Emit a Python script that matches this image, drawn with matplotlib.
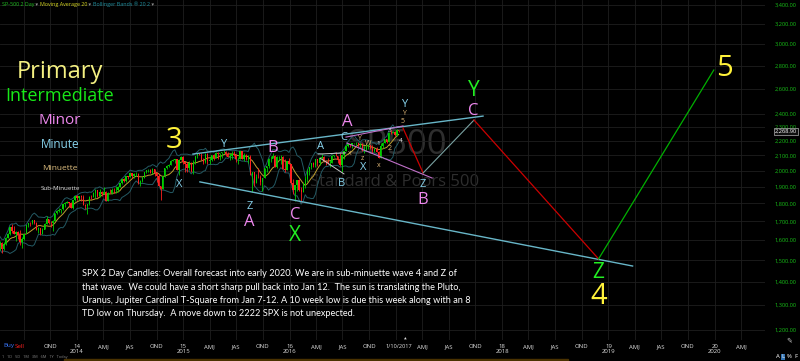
import numpy as np
import pandas as pd
import matplotlib
matplotlib.use("Agg")
import matplotlib.pyplot as plt
import matplotlib.dates as mdates
from matplotlib.ticker import NullLocator
from matplotlib.patches import Rectangle

plt.rcParams['font.family'] = ['Open Sans', 'DejaVu Sans']

W, H = 800, 361

####################################################################
# weekly SPX bars, Apr 2013 .. Jan 10 2017 (one row per month)
####################################################################
closes = [
    1588, 1555, 1582,
    1614, 1633, 1667, 1649, 1631,
    1643, 1626, 1592, 1606,
    1632, 1680, 1692, 1691,
    1709, 1691, 1655, 1664, 1633,
    1655, 1688, 1710, 1692,
    1691, 1703, 1744, 1759,
    1762, 1770, 1798, 1804, 1806,
    1805, 1775, 1818, 1841,
    # 2014
    1831, 1842, 1838, 1790, 1783,
    1797, 1838, 1836, 1859,
    1878, 1841, 1866, 1857,
    1865, 1815, 1864, 1863,
    1881, 1878, 1878, 1900, 1924,
    1949, 1937, 1963, 1961,
    1985, 1968, 1978, 1978,
    1925, 1932, 1955, 1988, 2003,
    2007, 1985, 2010, 1982,
    1968, 1906, 1886, 1964, 2018,
    2032, 2039, 2064, 2068,
    2075, 2002, 2071, 2088,
    # 2015
    2058, 2045, 2019, 2051, 1995,
    2055, 2097, 2110, 2105,
    2071, 2053, 2108, 2061,
    2067, 2102, 2081, 2117,
    2108, 2116, 2122, 2126, 2107,
    2092, 2094, 2110, 2102,
    2077, 2077, 2127, 2079, 2104,
    2078, 2092, 1971, 1989,
    1921, 1961, 1958, 1931,
    1951, 2015, 2033, 2075, 2079,
    2099, 2023, 2089, 2090,
    2092, 2012, 2006, 2061,
    # 2016
    2044, 1922, 1880, 1907, 1940,
    1880, 1865, 1917, 1948,
    2000, 2022, 2050, 2035,
    2073, 2048, 2081, 2092, 2065,
    2057, 2047, 2052, 2099,
    2099, 2096, 2071, 2037,
    2103, 2130, 2162, 2175, 2173,
    2183, 2184, 2184, 2169,
    2180, 2128, 2139, 2165, 2168,
    2153, 2133, 2141, 2126,
    2085, 2164, 2182, 2213,
    2192, 2259, 2258, 2264, 2239,
    # 2017
    2277, 2269,
]
highs = [
    1597, 1593, 1592,
    1618, 1635, 1667, 1687, 1674,
    1646, 1648, 1654, 1615,
    1632, 1680, 1693, 1698,
    1709, 1708, 1696, 1669, 1664,
    1664, 1689, 1730, 1711,
    1700, 1709, 1745, 1760,
    1775, 1771, 1799, 1807, 1813,
    1807, 1809, 1823, 1844,
    # 2014
    1849, 1843, 1850, 1849, 1798,
    1798, 1841, 1847, 1867,
    1883, 1878, 1884, 1875,
    1897, 1873, 1865, 1885,
    1891, 1889, 1902, 1901, 1924,
    1950, 1955, 1963, 1968,
    1985, 1985, 1984, 1991,
    1985, 1942, 1964, 1992, 2005,
    2011, 2008, 2019, 2008,
    1990, 1977, 1906, 1965, 2018,
    2034, 2041, 2071, 2075,
    2079, 2076, 2077, 2093,
    # 2015
    2093, 2064, 2056, 2064, 2057,
    2072, 2097, 2110, 2119,
    2118, 2083, 2114, 2114,
    2089, 2102, 2111, 2120,
    2126, 2117, 2124, 2134, 2127,
    2121, 2115, 2127, 2130,
    2107, 2086, 2129, 2132, 2114,
    2112, 2105, 2103, 1989,
    1987, 1976, 2020, 1974,
    1952, 2020, 2033, 2080, 2094,
    2116, 2101, 2097, 2095,
    2104, 2093, 2076, 2064,
    # 2016
    2081, 2038, 1950, 1908, 1940,
    1947, 1896, 1930, 1963,
    2009, 2022, 2052, 2056,
    2074, 2075, 2086, 2112, 2099,
    2070, 2084, 2071, 2100,
    2105, 2120, 2094, 2113,
    2105, 2131, 2169, 2175, 2178,
    2183, 2188, 2193, 2187,
    2184, 2187, 2163, 2175, 2175,
    2170, 2169, 2148, 2154,
    2128, 2182, 2189, 2214,
    2214, 2260, 2278, 2273, 2273,
    # 2017
    2283, 2279,
]
lows = [
    1553, 1536, 1553,
    1577, 1610, 1626, 1635, 1630,
    1598, 1608, 1577, 1560,
    1601, 1635, 1670, 1676,
    1684, 1683, 1654, 1640, 1627,
    1633, 1656, 1683, 1687,
    1670, 1646, 1700, 1740,
    1752, 1746, 1760, 1779, 1800,
    1779, 1772, 1767, 1815,
    # 2014
    1823, 1823, 1815, 1790, 1770,
    1738, 1791, 1825, 1836,
    1834, 1839, 1839, 1842,
    1857, 1814, 1816, 1859,
    1857, 1859, 1862, 1868, 1896,
    1915, 1931, 1930, 1944,
    1958, 1952, 1955, 1965,
    1916, 1904, 1928, 1953, 1986,
    1992, 1983, 1978, 1965,
    1926, 1905, 1821, 1886, 1960,
    2010, 2026, 2034, 2062,
    2049, 2002, 1972, 2066,
    # 2015
    2046, 1992, 1988, 2005, 1989,
    1981, 2041, 2085, 2103,
    2067, 2040, 2050, 2045,
    2044, 2060, 2072, 2080,
    2077, 2068, 2085, 2115, 2099,
    2086, 2072, 2078, 2099,
    2057, 2044, 2076, 2077, 2063,
    2067, 2052, 1970, 1867,
    1903, 1921, 1953, 1908,
    1872, 1951, 1990, 2018, 2059,
    2080, 2022, 2020, 2070,
    2042, 2012, 1994, 2005,
    # 2016
    2043, 1918, 1857, 1812, 1873,
    1872, 1810, 1865, 1891,
    1931, 1970, 2010, 2022,
    2022, 2033, 2039, 2074, 2053,
    2039, 2044, 2026, 2050,
    2086, 2095, 2050, 2033,
    1991, 2074, 2131, 2154, 2156,
    2147, 2175, 2172, 2160,
    2159, 2127, 2119, 2132, 2145,
    2144, 2114, 2124, 2122,
    2084, 2084, 2151, 2183,
    2187, 2191, 2252, 2258, 2234,
    # 2017
    2233, 2266,
]
first_open = 1561
last_price = 2268.90

price_ticks = [1200, 1300, 1400, 1500, 1600, 1700, 1800, 1900, 2000, 2100,
               2200, 2300, 2400, 2600, 2800, 3000, 3200, 3400]

####################################################################
# Elliott wave forecast paths (dates, prices)
####################################################################
wave_paths = [
    (["2015-02-03", "2017-10-27"], [2109, 2382], "channel"),
    (["2015-02-27", "2019-03-25"], [1929, 1473], "channel"),
    (["2016-07-13", "2017-01-25"], [2227, 2308], "minor"),
    (["2016-07-16", "2017-05-05"], [2185, 1953], "minor"),
    (["2016-04-08", "2016-07-12"], [2109, 2117], "white"),
    (["2016-04-15", "2016-07-06"], [2082, 1979], "white"),
    (["2017-01-25", "2017-04-04"], [2292, 1985], "down"),
    (["2017-04-04", "2017-09-26"], [1985, 2352], "up_gray"),
    (["2017-09-26", "2018-11-28"], [2352, 1507], "down"),
    (["2018-11-28", "2019-12-29"], [1507, 2761], "up"),
]
path_style = {
    "channel": ("#68b6c8", 1.0),
    "minor": ("#c070c8", 0.8),
    "white": ("#c8c8c8", 0.7),
    "down": ("#cc0000", 0.9),
    "up_gray": ("#7aa2a2", 0.8),
    "up": ("#00b000", 0.9),
}

wave_labels = [
    ("3", "2014-11-29", 2206, "primary"),
    ("X", "2014-12-19", 1910, "minute"),
    ("Y", "2015-05-17", 2178, "minute"),
    ("B", "2015-11-04", 2150, "minor"),
    ("Z", "2015-08-17", 1780, "minute"),
    ("A", "2015-08-17", 1696, "minor"),
    ("C", "2016-01-19", 1735, "minor"),
    ("X", "2016-01-19", 1622, "intermediate"),
    ("A", "2016-04-15", 2164, "minute"),
    ("B", "2016-06-29", 1922, "minute"),
    ("A", "2016-07-19", 2337, "minor"),
    ("C", "2016-07-04", 2224, "minute"),
    ("X", "2016-09-09", 2017, "minute"),
    ("Y", "2016-08-27", 2216, "minuette"),
    ("x", "2016-07-26", 2114, "minuette"),
    ("W", "2016-09-26", 2185, "minuette"),
    ("z", "2016-09-09", 2080, "minuette"),
    ("1", "2016-10-31", 2185, "sub"),
    ("x", "2016-11-03", 2030, "minuette"),
    ("2", "2016-12-11", 2150, "minuette"),
    ("3", "2016-12-11", 2271, "sub"),
    ("4", "2017-01-18", 2206, "sub"),
    ("Y", "2017-01-28", 2475, "minute"),
    ("Y", "2017-01-28", 2400, "minuette"),
    ("5", "2017-01-25", 2343, "minuette"),
    ("Z", "2017-04-03", 1912, "minute"),
    ("B", "2017-04-03", 1822, "minor"),
    ("Y", "2017-09-25", 2585, "intermediate"),
    ("C", "2017-09-25", 2425, "minor"),
    ("5", "2020-02-05", 2779, "primary"),
    ("Z", "2018-11-28", 1443, "intermediate"),
    ("4", "2018-11-28", 1336, "primary"),
]
level_style = {
    "primary": ("#fff23a", 21),
    "intermediate": ("#22ee22", 15),
    "minor": ("#ee88ee", 12),
    "minute": ("#88d4ee", 8),
    "minuette": ("#e0b878", 5),
    "sub": ("#e6e6e6", 4.5),
}

legend_rows = [
    ("Primary", "#f4f082", 17, 72),
    ("Intermediate", "#18e818", 13, 96),
    ("Minor", "#ee88ee", 11, 121),
    ("Minute", "#88d4ee", 8.5, 145),
    ("Minuette", "#e0c080", 6, 168),
    ("Sub-Minuette", "#e0e0e0", 4.5, 188),
]

header_parts = [
    ("SP-500 2 Day", "#20c020"),
    (" \u25be ", "#909090"),
    ("Moving Average 20", "#d8d820"),
    (" \u25be ", "#909090"),
    ("Bollinger Bands \u00ae 20 2", "#2090a0"),
    (" \u25be", "#909090"),
]

note_lines = [
    "SPX 2 Day Candles: Overall forecast into early 2020. We are in sub-minuette wave 4 and Z of",
    "that wave.  We could have a short sharp pull back into Jan 12.  The sun is translating the Pluto,",
    "Uranus, Jupiter Cardinal T-Square from Jan 7-12. A 10 week low is due this week along with an 8",
    "TD low on Thursday.  A move down to 2222 SPX is not unexpected.",
]


def fx(px):
    return px / W


def fy(py):
    return 1 - py / H


def main():
    fig = plt.figure(figsize=(8, 3.61), dpi=100, facecolor="black")
    ax = fig.add_axes([0, 21 / H, 765 / W, 340 / H], facecolor="black")

    c = np.array(closes, dtype=float)
    hi = np.array(highs, dtype=float)
    lo = np.array(lows, dtype=float)
    o = np.array([first_open] + closes[:-1], dtype=float)

    dates = list(pd.date_range("2013-04-10", periods=len(closes) - 1, freq="W-WED"))
    dates.append(pd.Timestamp("2017-01-10"))
    x = mdates.date2num(dates)

    # moving average 20 and bollinger bands (2 day ~ 8 weeks)
    s = pd.Series(c)
    ma = s.rolling(8, min_periods=1).mean()
    sd = s.rolling(8, min_periods=2).std(ddof=0).bfill()
    ax.plot(x, ma, color="#c0a030", lw=0.7, zorder=2)
    ax.plot(x, ma + 2 * sd, color="#245a64", lw=0.7, zorder=2)
    ax.plot(x, ma - 2 * sd, color="#245a64", lw=0.7, zorder=2)

    # candles
    col = np.where(c >= o, "#00d000", "#ff2020")
    ax.vlines(x, lo, hi, colors=col, lw=0.6, zorder=3)
    ax.bar(x, np.maximum(np.abs(c - o), 1.0), bottom=np.minimum(o, c),
           width=4.5, color=col, lw=0, zorder=3)

    # watermark
    ax.text(mdates.date2num(pd.Timestamp("2017-01-04")), 2171, "SP500",
            color="#2e2e2e", fontsize=25, ha="center", va="center", zorder=0.5)
    ax.text(mdates.date2num(pd.Timestamp("2016-12-28")), 1929, "Standard & Poors 500",
            color="#2e2e2e", fontsize=12, ha="center", va="center", zorder=0.5)

    # forecast paths
    for ds, ps, key in wave_paths:
        colr, lw = path_style[key]
        ax.plot(mdates.date2num(pd.to_datetime(ds)), ps, color=colr, lw=lw, zorder=4)

    for txt, d, p, lev in wave_labels:
        colr, fs = level_style[lev]
        ax.text(mdates.date2num(pd.Timestamp(d)), p, txt, color=colr, fontsize=fs,
                ha="center", va="center", zorder=5)

    # axes
    ax.set_yscale("log")
    ax.set_ylim(1162, 3456)
    ax.set_xlim(mdates.date2num(pd.Timestamp("2013-04-11")),
                mdates.date2num(pd.Timestamp("2020-06-22")))
    ax.yaxis.tick_right()
    ax.set_yticks(price_ticks)
    ax.set_yticklabels([f"{v:,.2f}" for v in price_ticks])
    ax.yaxis.set_minor_locator(NullLocator())
    ax.tick_params(axis="y", colors="#18c018", labelsize=4.1, length=0, pad=7)

    qtr = pd.date_range("2013-07-01", "2020-04-01", freq="QS")
    names = {4: "AMJ", 7: "JAS", 10: "OND"}
    xl = []
    for d in qtr:
        if d.month == 1:
            xl.append("" if d.year == 2017 else f"{d.year % 100}\n{d.year}")
        else:
            xl.append(names[d.month])
    xl[0] = ""
    ax.set_xticks(mdates.date2num(qtr))
    ax.set_xticklabels(xl, linespacing=1.0)
    ax.tick_params(axis="x", colors="#e0e0e0", labelsize=4.3, length=0, pad=3)
    ax.grid(True, color="#1e1e1e", lw=0.6, zorder=0)
    ax.set_axisbelow(True)
    for sp in ax.spines.values():
        sp.set_visible(False)

    # last price box and cursor date
    ax.annotate(f"{last_price:,.2f}", xy=(1.013, last_price),
                xycoords=("axes fraction", "data"), color="white", fontsize=4.1,
                ha="left", va="center", annotation_clip=False,
                bbox=dict(boxstyle="square,pad=0.15", fc="#101010", ec="#b0b0b0", lw=0.5))
    fig.text(fx(399), fy(347), "1/10/2017", color="#e0e0e0", fontsize=4.1,
             ha="center", va="center")
    fig.text(fx(405), fy(339), "\u25b2", color="#e0e0e0", fontsize=2.5, ha="center", va="center")

    # header, each part placed right after the previous one
    prev = fig.text(fx(2), fy(4.5), header_parts[0][0], color=header_parts[0][1],
                    fontsize=3.9, va="center")
    for txt, colr in header_parts[1:]:
        prev = ax.annotate(txt, xy=(1, 0.5), xycoords=prev, color=colr, fontsize=3.9,
                           ha="left", va="center", annotation_clip=False)

    # wave degree legend
    for txt, colr, fs, py in legend_rows:
        fig.text(fx(60), fy(py), txt, color=colr, fontsize=fs, ha="center", va="center")

    # commentary
    for i, line in enumerate(note_lines):
        fig.text(fx(82), fy(274 + 13.3 * i), line, color="white", fontsize=6.6,
                 family=["Lato", "DejaVu Sans"], ha="left", va="center")

    # bottom toolbar bits
    fig.text(fx(3), fy(346), "Buy", color="#3a78ff", fontsize=4.5, va="center")
    fig.text(fx(15), fy(346), "Sell", color="#ff2020", fontsize=4.5, va="center")
    fig.text(fx(2), fy(357), "1   1D   5D   1M   3M   6M   1Y   Today", color="#808080",
             fontsize=2.8, va="center")
    fig.patches.append(Rectangle((fx(64), 0), fx(568) - fx(64), 2 / H,
                                 transform=fig.transFigure, color="#4a3200"))
    fig.text(fx(776), fy(357), "A", color="white", fontsize=4.3, va="center")
    fig.text(fx(781.5), fy(357), "L", color="white", fontsize=4.3, va="center",
             bbox=dict(boxstyle="square,pad=0.1", fc="#3070b0", lw=0))
    fig.text(fx(787), fy(357), "%", color="white", fontsize=4.3, va="center")
    fig.text(fx(794), fy(357), "F", color="white", fontsize=4.3, va="center")
    fig.text(fx(789), fy(341), "\u270e", color="#c0c0c0", fontsize=5, ha="center", va="center")

    fig.savefig("out.png", dpi=100, facecolor="black")


if __name__ == "__main__":
    main()
